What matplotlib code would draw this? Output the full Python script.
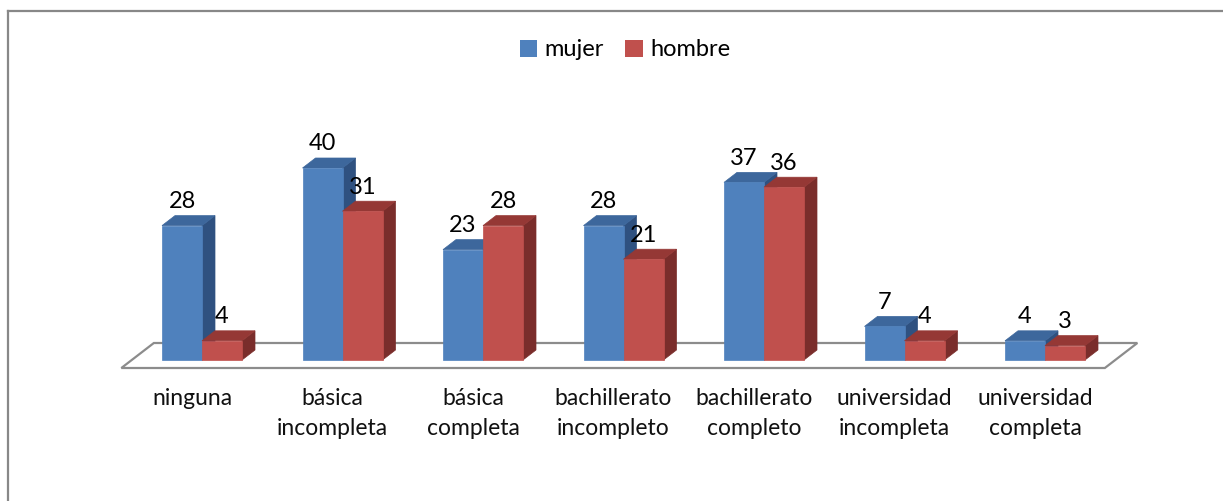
import matplotlib
import matplotlib.pyplot as plt
from matplotlib.patches import Polygon, Patch
from matplotlib.lines import Line2D

matplotlib.rcParams['font.family'] = ['Lato', 'DejaVu Sans']

categorias = ['ninguna', 'básica\nincompleta', 'básica\ncompleta', 'bachillerato\nincompleto',
              'bachillerato\ncompleto', 'universidad\nincompleta', 'universidad\ncompleta']
mujer = [28, 40, 23, 28, 37, 7, 4]
hombre = [4, 31, 28, 21, 36, 4, 3]
series = ['mujer', 'hombre']

# colores: frente, arriba, lado
colores = {
    'mujer': ('#4F81BD', '#3D679C', '#2F5180'),
    'hombre': ('#C0504D', '#953835', '#7A2D2B'),
}

W, H = 1223, 501
fig = plt.figure(figsize=(W / 100, H / 100), dpi=100)

# escala en pixeles: centro de grupo = 202 + 140.5*i, y=0 en fila 360, 4.8 px por unidad
px_x = 140.5
px_y = 4.8
ax = fig.add_axes([0, 0, 1, 1])
ax.set_xlim(-202 / px_x, (W - 202) / px_x)
ax.set_ylim(-(H - 360) / px_y, 360 / px_y)
ax.axis('off')

ancho = 40 / px_x
dx = 13 / px_x
dy = 10 / px_y

# piso
x0, x1 = -0.5, 6.5
f = -0.8
b = 1.7
piso = Polygon([(x0 + f * dx, f * dy), (x1 + f * dx, f * dy),
                (x1 + b * dx, b * dy), (x0 + b * dx, b * dy)],
               closed=True, facecolor='white', edgecolor='#8C8C8C', lw=1.6, zorder=1)
ax.add_patch(piso)


def barra(xl, v, cols, z):
    xr = xl + ancho
    frente = Polygon([(xl, 0), (xr, 0), (xr, v), (xl, v)], closed=True,
                     facecolor=cols[0], edgecolor=cols[0], lw=0.5, zorder=z)
    arriba = Polygon([(xl, v), (xr, v), (xr + dx, v + dy), (xl + dx, v + dy)], closed=True,
                     facecolor=cols[1], edgecolor=cols[1], lw=0.5, zorder=z)
    lado = Polygon([(xr, 0), (xr + dx, dy), (xr + dx, v + dy), (xr, v)], closed=True,
                   facecolor=cols[2], edgecolor=cols[2], lw=0.5, zorder=z)
    for p in (lado, arriba, frente):
        ax.add_patch(p)
    ax.text(xl + ancho / 2, v + 5.0, str(v), ha='center', va='center', fontsize=17,
            color='black', zorder=10)


z = 2
for i, cat in enumerate(categorias):
    for j, (nombre, vals) in enumerate(zip(series, [mujer, hombre])):
        barra(i - ancho + j * ancho, vals[i], colores[nombre], z)
        z += 1
    ax.text(i - 10 / px_x, -(388 - 360) / px_y, cat, ha='center', va='top', fontsize=16.5,
            linespacing=1.55, color='#111111')

handles = [Patch(facecolor=colores[s][0], edgecolor='none') for s in series]
fig.legend(handles, series, loc='center', bbox_to_anchor=(0.511, 1 - 50 / H), ncol=2,
           frameon=False, fontsize=17, handlelength=0.75, handleheight=0.75,
           handletextpad=0.3, columnspacing=0.9)

# marco
fig.add_artist(Line2D([7.5 / W, 1], [1 - 11 / H, 1 - 11 / H], color='#888888', lw=1.6,
                      transform=fig.transFigure))
fig.add_artist(Line2D([7.5 / W, 7.5 / W], [0, 1 - 11 / H], color='#888888', lw=1.6,
                      transform=fig.transFigure))

fig.savefig('out.png', dpi=100)
